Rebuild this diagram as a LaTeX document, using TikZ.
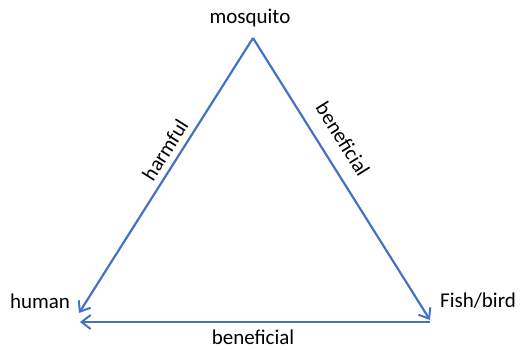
\documentclass[tikz,border=0pt]{standalone}
\usepackage{fontspec}
\setmainfont{Carlito}
\usetikzlibrary{arrows.meta}
\definecolor{edgeblue}{RGB}{68,114,196}
\begin{document}
\begin{tikzpicture}[x=1pt,y=-1pt,
  edge/.style={draw=edgeblue,line width=2.2pt,-{Straight Barb[length=9pt,width=14pt,line width=2pt]}},
  lbl/.style={inner sep=0pt,font=\fontsize{21}{24}\selectfont}]
\useasboundingbox (0,0) rectangle (521,349);
\coordinate (apex) at (253,38);
\coordinate (hl) at (79,313);
\coordinate (hb) at (80,322);
\coordinate (fl) at (430,320);
\coordinate (fb) at (430,322);
\node[lbl] (mosq) at (250,18) {mosquito};
\node[lbl] (human) at (40,301) {human};
\node[lbl] (fish) at (478,301) {Fish/bird};
\node[lbl] (ben3) at (253,337) {beneficial};
\node[lbl,rotate=57.7] (harm) at (165,150) {harmful};
\node[lbl,rotate=-57.9] (ben1) at (343,139) {beneficial};
\draw[edge] (apex) -- (hl);
\draw[edge] (apex) -- (fl);
\draw[edge] (fb) -- (hb);
\end{tikzpicture}
\end{document}
